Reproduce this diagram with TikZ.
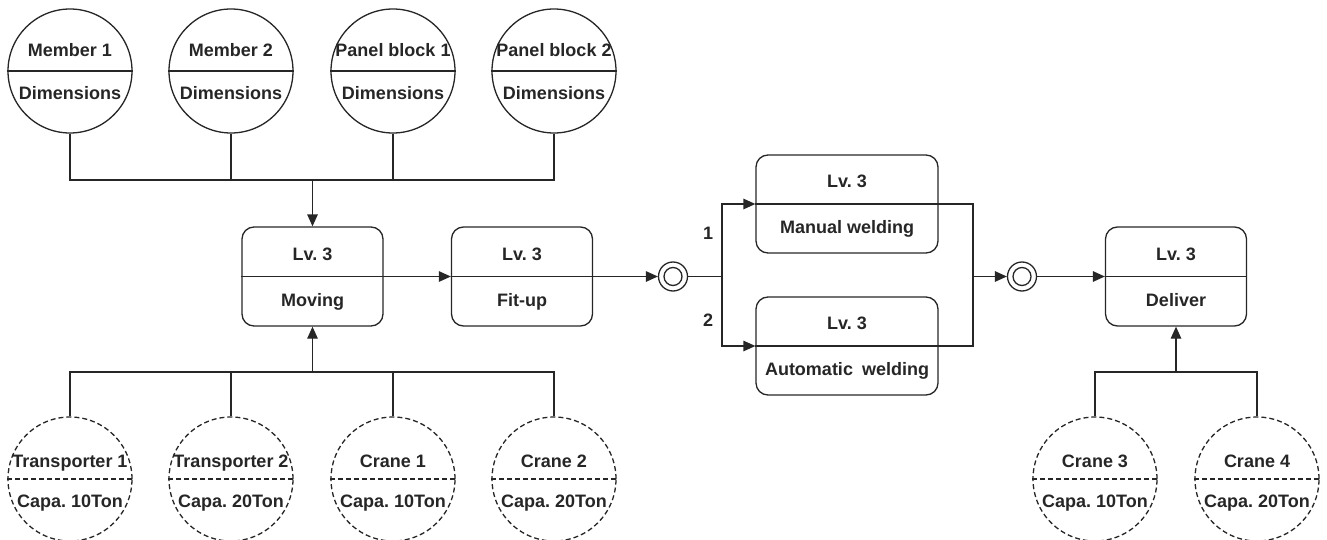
\documentclass[tikz,border=0pt]{standalone}
\usepackage{fontspec}
\setmainfont{Liberation Sans}
\frenchspacing
\usetikzlibrary{arrows.meta}
\tikzset{
  every picture/.style={x=1pt,y=-1pt},
  ln/.style={line width=1.3pt, draw=black!85},
  tip/.style={-{Triangle[length=12pt,width=10.5pt]}},
  res/.style={circle, ln, minimum size=124pt, inner sep=0pt},
  dres/.style={res, dash pattern=on 5pt off 3pt},
  act/.style={rectangle, rounded corners=12pt, ln, minimum width=141pt, minimum height=99pt, inner sep=0pt},
  wact/.style={act, minimum width=182pt, minimum height=98pt},
  txt/.style={anchor=base, inner sep=0pt, font=\fontsize{18}{20}\selectfont\bfseries, text=black!85},
  junc/.style={circle, ln, minimum size=29pt, inner sep=0pt},
  juncin/.style={circle, ln, minimum size=18pt, inner sep=0pt},
}
\begin{document}
\begin{tikzpicture}
\useasboundingbox (0,0) rectangle (1327,540);
% top resources
\foreach \n/\x/\t in {m1/70/Member 1, m2/231/Member 2, p1/393/Panel block 1, p2/554/Panel block 2}{
  \node[res] (\n) at (\x,71) {};
  \draw[ln] (\n.west) -- (\n.east);
  \node[txt] (\n t) at (\x,57) {\t};
  \node[txt] (\n d) at (\x,100) {Dimensions};
}
% bottom resources
\foreach \n/\x/\t/\c in {t1/70/Transporter 1/10, t2/231/Transporter 2/20, c1r/393/Crane 1/10, c2r/554/Crane 2/20, c3r/1095/Crane 3/10, c4r/1257/Crane 4/20}{
  \node[dres] (\n) at (\x,479) {};
  \draw[ln, dash pattern=on 5pt off 3pt] (\n.west) -- (\n.east);
  \node[txt] (\n t) at (\x,467) {\t};
  \node[txt] (\n d) at (\x,507) {Capa. \c Ton};
}
% activities
\foreach \n/\x/\y/\t/\s in {mov/312.5/276.5/Moving/act, fit/522/276.5/Fit-up/act, del/1176/276.5/Deliver/act, mw/847/204/Manual welding/wact, aw/847/346/Automatic\hspace{0.5em}welding/wact}{
  \node[\s] (\n) at (\x,\y) {};
  \draw[ln] (\n.west) -- (\n.east);
  \node[txt] (\n l) at (\x,\y-16.5) {Lv. 3};
  \node[txt] (\n a) at (\x,\y+29.5) {\t};
}
% junctions
\node[junc] (j1) at (673,276.5) {};
\node[juncin] (j1i) at (673,276.5) {};
\node[junc] (j2) at (1022,276.5) {};
\node[juncin] (j2i) at (1022,276.5) {};
% connectors
\coordinate (jt) at (312.5,180);
\foreach \n in {m1,m2,p1,p2} \draw[ln] (\n.south) |- (jt);
\draw[ln,tip] (jt) -- (mov.north);
\coordinate (jb) at (312.5,372);
\foreach \n in {t1,t2,c1r,c2r} \draw[ln] (\n.north) |- (jb);
\draw[ln,tip] (jb) -- (mov.south);
\coordinate (jd) at (1176,372);
\foreach \n in {c3r,c4r} \draw[ln] (\n.north) |- (jd);
\draw[ln,tip] (jd) -- (del.south);
\draw[ln,tip] (mov.east) -- (fit.west);
\draw[ln,tip] (fit.east) -- (j1.west);
\coordinate (sp) at (722,276.5);
\draw[ln] (j1.east) -- (sp);
\draw[ln,tip] (sp) |- (mw.west);
\draw[ln,tip] (sp) |- (aw.west);
\coordinate (mg) at (973,276.5);
\draw[ln] (mw.east) -| (mg);
\draw[ln] (aw.east) -| (mg);
\draw[ln,tip] (mg) -- (j2.west);
\draw[ln,tip] (j2.east) -- (del.west);
\node[txt] (n1) at (708,239) {1};
\node[txt] (n2) at (708,326) {2};
\end{tikzpicture}
\end{document}
